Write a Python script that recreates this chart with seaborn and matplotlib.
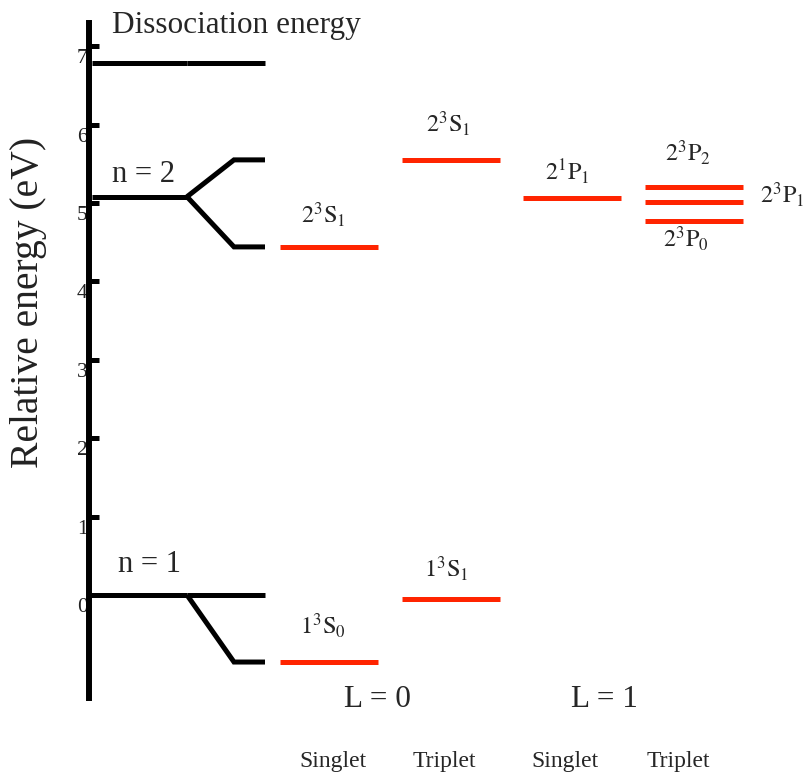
import matplotlib
matplotlib.use("Agg")
import matplotlib.pyplot as plt
import matplotlib.transforms as mtransforms
import pandas as pd
import seaborn as sns

# --- level data, energies in eV relative to n = 1 ---
ref_names = ["Dissociation energy", "n = 2", "n = 1"]
ref_energy = [6.78, 5.08, 0.0]

# branches leaving each reference level (a flat branch just continues the line)
branch_parent = [0, 1, 1, 2, 2]
branch_energy = [6.78, 5.55, 4.44, 0.0, -0.855]

state_labels = [r"$1^3\mathrm{S}_0$", r"$2^3\mathrm{S}_1$", r"$1^3\mathrm{S}_1$",
                r"$2^3\mathrm{S}_1$", r"$2^1\mathrm{P}_1$", r"$2^3\mathrm{P}_2$",
                r"$2^3\mathrm{P}_1$", r"$2^3\mathrm{P}_0$"]
state_column = [0, 0, 1, 1, 2, 3, 3, 3]
state_energy = [-0.855, 4.44, -0.057, 5.55, 5.06, 5.20, 5.01, 4.77]

column_labels = ["Singlet", "Triplet", "Singlet", "Triplet"]
group_labels = ["L = 0", "L = 1"]
yticks = [0, 1, 2, 3, 4, 5, 6, 7]

# --- layout (pixels of the 807x779 canvas) ---
W, H = 807, 779
PX, Y0 = 78.4, 595          # pixels per eV, pixel row of E = 0
AXIS_X = 89
REF_X0, SPLIT_X, FAN_X, REF_X1 = 92, 187, 234, 265
COL_X0, COL_STEP, COL_W = 280, 121.5, 98
RED = "#ff2400"
LW = 3.6

# label offsets from the level centre in pixels; "r" = left-aligned past the line end
label_pos = [("c", -6, 36), ("c", -6, 32), ("c", -4, 31), ("c", -2, 36),
             ("c", -5, 27), ("c", -5, 35), ("r", 17, 8), ("c", -8, -18)]
ref_label_px = [(112, 33, 22.5), (112, 182, 22), (118, 572, 22)]
sub_x = [333, 444, 565, 678]
group_x = [377, 604]

sns.set_theme(style="white")
plt.rcParams["font.family"] = ["Liberation Serif", "DejaVu Serif"]
plt.rcParams["mathtext.fontset"] = "stix"

fig = plt.figure(figsize=(W / 100, H / 100), dpi=100)
ax = fig.add_axes([0, 0, 1, 1])
ax.set_xlim(0, W)
ax.set_ylim((Y0 - H) / PX, Y0 / PX)
px = mtransforms.Affine2D().scale(1 / W, -1 / H).translate(0, 1) + fig.transFigure

# black reference levels and their splitting
rows = []
for i, e in enumerate(ref_energy):
    rows += [(f"r{i}", REF_X0, e), (f"r{i}", SPLIT_X, e)]
for j, (p, e) in enumerate(zip(branch_parent, branch_energy)):
    e0 = ref_energy[p]
    rows += [(f"b{j}", SPLIT_X, e0), (f"b{j}", FAN_X, e), (f"b{j}", REF_X1, e)]
black = pd.DataFrame(rows, columns=["seg", "x", "E"])
sns.lineplot(data=black, x="x", y="E", units="seg", estimator=None, sort=False,
             color="black", lw=LW, solid_joinstyle="miter", solid_capstyle="butt",
             legend=False, ax=ax)

# red term levels
rows = []
for k, (c, e) in enumerate(zip(state_column, state_energy)):
    x0 = COL_X0 + c * COL_STEP
    rows += [(k, x0, e), (k, x0 + COL_W, e)]
red = pd.DataFrame(rows, columns=["state", "x", "E"])
sns.lineplot(data=red, x="x", y="E", units="state", estimator=None, sort=False,
             color=RED, lw=LW, solid_capstyle="butt", legend=False, ax=ax)

for k, lab in enumerate(state_labels):
    x0 = COL_X0 + state_column[k] * COL_STEP
    mode, dx, dy = label_pos[k]
    xy = (x0 + COL_W / 2, state_energy[k]) if mode == "c" else (x0 + COL_W, state_energy[k])
    ax.annotate(lab, xy=xy, xytext=(dx, dy), textcoords="offset pixels",
                ha="center" if mode == "c" else "left", va="center", fontsize=17.5)

for name, (x, y, fs) in zip(ref_names, ref_label_px):
    ax.text(x, y, name, transform=px, ha="left", va="baseline", fontsize=fs)

for name, x in zip(group_labels, group_x):
    ax.text(x, 707, name, transform=px, ha="center", va="baseline", fontsize=22.5)
for name, x in zip(column_labels, sub_x):
    ax.text(x, 767, name, transform=px, ha="center", va="baseline", fontsize=17)

# energy axis
for s in ["top", "right", "bottom"]:
    ax.spines[s].set_visible(False)
ax.spines["left"].set_position(("data", AXIS_X))
ax.spines["left"].set_bounds((Y0 - 698) / PX, (Y0 - 23) / PX)
ax.spines["left"].set_linewidth(4.3)
ax.spines["left"].set_color("black")
ax.set_xticks([])
ax.set_xlabel("")
ax.set_yticks(yticks)
ax.tick_params(axis="y", direction="in", length=7.5, width=3.6, pad=1,
               labelsize=15.5, color="black", labelcolor="#222222", left=True)
shift = mtransforms.ScaledTranslation(0, -0.1, fig.dpi_scale_trans)
for lbl in ax.get_yticklabels():
    lbl.set_transform(lbl.get_transform() + shift)
ax.set_ylabel("Relative energy (eV)", fontsize=28.5, color="#222222")
ax.yaxis.set_label_coords(29 / W, 1 - 302 / H)
ax.yaxis.label.set_va("center")
ax.set_facecolor("white")

fig.savefig("out.png", dpi=100, facecolor="white")
